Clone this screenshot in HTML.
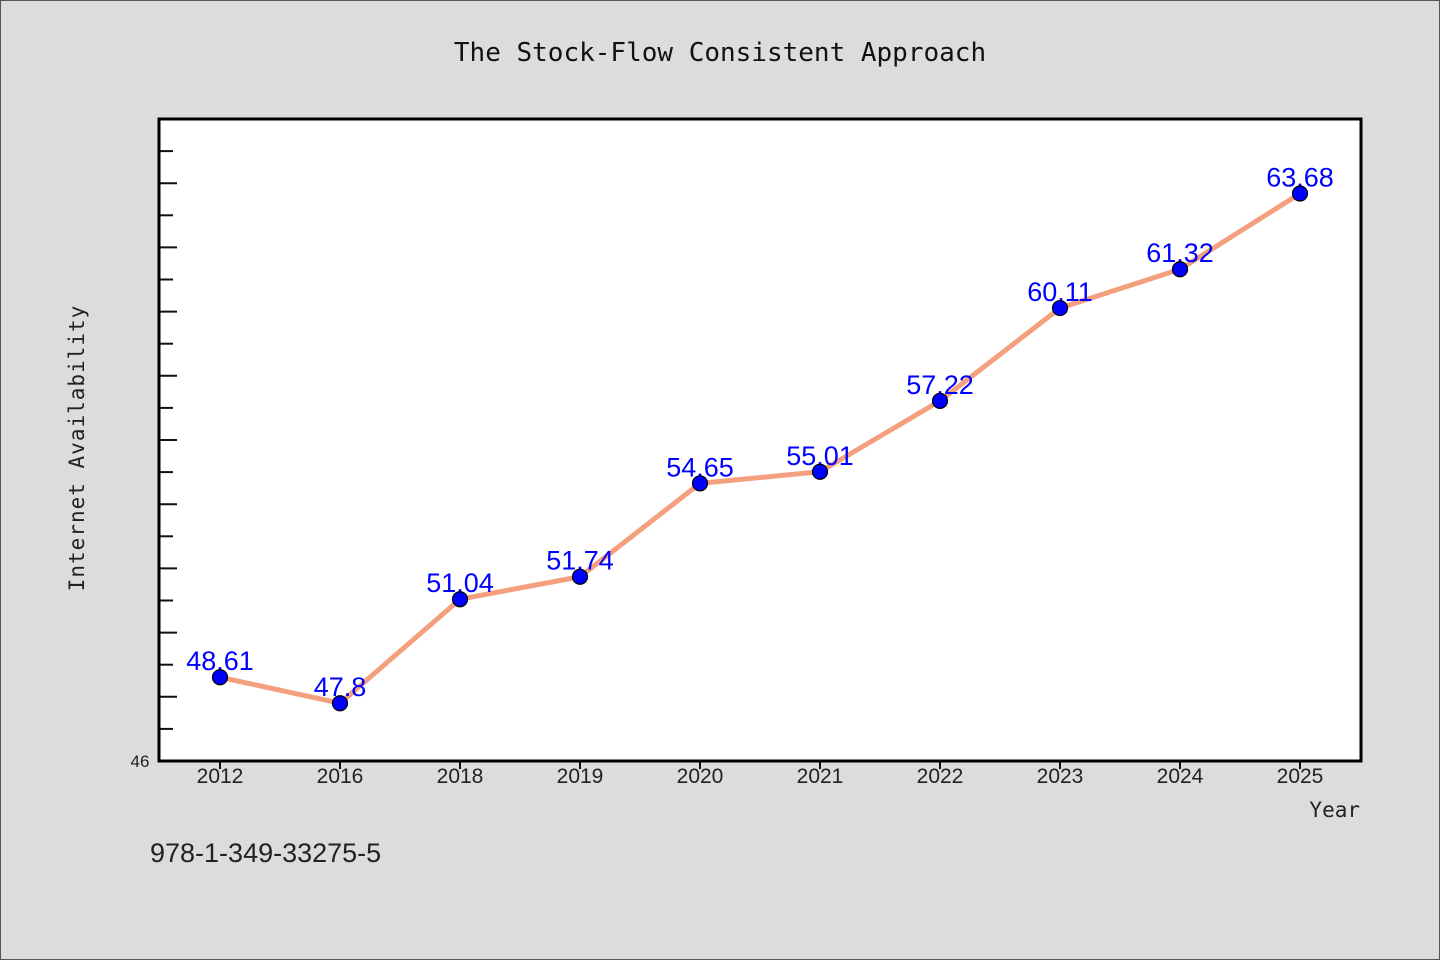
<!DOCTYPE html>
<html><head><meta charset="utf-8"><style>
html,body{margin:0;padding:0;background:#dcdcdc;}
svg{display:block;}
</style></head><body>
<svg width="1440" height="960" xmlns="http://www.w3.org/2000/svg">
<rect x="0.5" y="0.5" width="1439" height="959" fill="#dcdcdc" stroke="#555"/>
<text x="720" y="61" text-anchor="middle" font-family="DejaVu Sans Mono, Liberation Mono, monospace" font-size="26" fill="#111">The Stock-Flow Consistent Approach</text>
<rect x="159" y="119" width="1202" height="642" fill="#fff"/>
<g id="ticks"></g>
<g id="series"></g>
<rect x="159" y="119" width="1202" height="642" fill="none" stroke="#000" stroke-width="3"/>
<text x="140" y="767" text-anchor="middle" font-family="Liberation Sans, sans-serif" font-size="17" fill="#222">46</text>
<text x="84" y="448" text-anchor="middle" transform="rotate(-90 84 448)" font-family="DejaVu Sans Mono, Liberation Mono, monospace" font-size="21" fill="#222" letter-spacing="1">Internet Availability</text>
<text x="1360" y="817" text-anchor="end" font-family="DejaVu Sans Mono, Liberation Mono, monospace" font-size="21" fill="#222">Year</text>
<text x="150" y="862" font-family="Liberation Sans, sans-serif" font-size="27" fill="#222">978-1-349-33275-5</text>
</svg>
<script>
const categories = ["2012","2016","2018","2019","2020","2021","2022","2023","2024","2025"];
const values = [48.61,47.8,51.04,51.74,54.65,55.01,57.22,60.11,61.32,63.68];
const valueLabels = ["48.61","47.8","51.04","51.74","54.65","55.01","57.22","60.11","61.32","63.68"];
const yMin = 46, yMax = 66;
const NS="http://www.w3.org/2000/svg";
const x0=159,x1=1361,yTop=119,yBot=761;
function xPos(i){return 220+i*120;}
function yPos(v){return yBot-(v-yMin)/(yMax-yMin)*(yBot-yTop);}
function mk(tag,attrs,parent){const e=document.createElementNS(NS,tag);for(const k in attrs)e.setAttribute(k,attrs[k]);parent.appendChild(e);return e;}
const tg=document.getElementById('ticks');
for(let v=yMin+1;v<yMax;v++){
  const y=yPos(v);const long=(v-yMin)%2===0;
  const t=mk('line',{x1:x0,x2:x0+(long?18:14),y1:y,y2:y,stroke:'#111','stroke-width':2},tg);
  
  
}
categories.forEach((c,i)=>{
  const x=xPos(i);
  const t=mk('line',{x1:x,x2:x,y1:yBot,y2:yBot+8,stroke:'#111','stroke-width':2},tg);
  
  
  const l=mk('text',{x:x,y:783,'text-anchor':'middle','font-family':'Liberation Sans, sans-serif','font-size':21,fill:'#222'},tg);
  l.textContent=c;
  
  
});
const sg=document.getElementById('series');
const pts=values.map((v,i)=>xPos(i)+','+yPos(v)).join(' ');
const pl=mk('polyline',{points:pts,fill:'none',stroke:'#f4a07e','stroke-width':5,'stroke-linejoin':'round'},sg);


values.forEach((v,i)=>{
  const t=mk('text',{x:xPos(i),y:yPos(v)-7,'text-anchor':'middle','font-family':'Liberation Sans, sans-serif','font-size':27,fill:'#0000ff'},sg);
  t.textContent=valueLabels[i];
  
  
});
values.forEach((v,i)=>{
  const c=mk('circle',{cx:xPos(i),cy:yPos(v),r:7.5,fill:'#0000ff',stroke:'#000','stroke-width':1.2},sg);
  
  
});
</script>
</body></html>
